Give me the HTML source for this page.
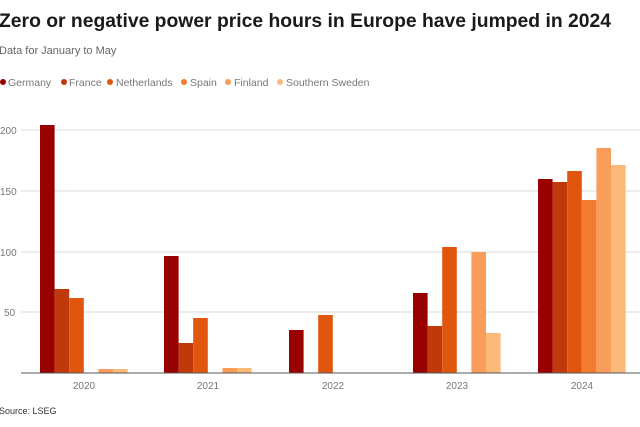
<!DOCTYPE html>
<html><head><style>
body{margin:0;width:640px;height:422px;background:#fff;overflow:hidden;font-family:"Liberation Sans",sans-serif}
</style></head><body>
<svg width="640" height="422" xmlns="http://www.w3.org/2000/svg" font-family="Liberation Sans, sans-serif">
<text x="-1" y="27" font-size="19.5" font-weight="bold" fill="#1a1a1a" textLength="612" lengthAdjust="spacingAndGlyphs">Zero or negative power price hours in Europe have jumped in 2024</text>
<text x="-1" y="54" font-size="11" fill="#666">Data for January to May</text>
<g font-size="10.5" fill="#777">
<circle cx="3" cy="82" r="3" fill="#990000"/><text x="8" y="86">Germany</text>
<circle cx="64" cy="82" r="3" fill="#c0390b"/><text x="69" y="86">France</text>
<circle cx="110" cy="82" r="3" fill="#e0560f"/><text x="116" y="86">Netherlands</text>
<circle cx="184" cy="82" r="3" fill="#f47a30"/><text x="190" y="86">Spain</text>
<circle cx="228" cy="82" r="3" fill="#f99e5a"/><text x="234" y="86">Finland</text>
<circle cx="280" cy="82" r="3" fill="#fbb97a"/><text x="286" y="86">Southern Sweden</text>
</g>
<g stroke="#d8d8d8" stroke-width="1">
<line x1="21" y1="130" x2="640" y2="130"/>
<line x1="21" y1="191" x2="640" y2="191"/>
<line x1="21" y1="252" x2="640" y2="252"/>
<line x1="21" y1="312" x2="640" y2="312"/>
</g>
<g font-size="10" fill="#777">
<text x="0" y="134">200</text><text x="0" y="195">150</text><text x="0" y="256">100</text><text x="4" y="316">50</text>
</g>
<g id="bars"></g>
<line x1="21" y1="373" x2="640" y2="373" stroke="#555" stroke-width="1"/>
<g font-size="10" fill="#777" text-anchor="middle">
<text x="84" y="389">2020</text><text x="208" y="389">2021</text><text x="333" y="389">2022</text><text x="457" y="389">2023</text><text x="582" y="389">2024</text>
</g>
<text x="-1" y="414" font-size="9" fill="#333">Source: LSEG</text>
<g>
<!-- bars generated inline -->
<rect x="40" y="125" width="14.6" height="248" fill="#990000"/>
<rect x="54.6" y="289" width="14.6" height="84" fill="#c0390b"/>
<rect x="69.2" y="298" width="14.6" height="75" fill="#e0560f"/>
<rect x="98.4" y="369" width="14.6" height="4" fill="#f99e5a"/>
<rect x="113" y="369" width="14.6" height="4" fill="#fbb97a"/>

<rect x="164" y="256" width="14.6" height="117" fill="#990000"/>
<rect x="178.6" y="343" width="14.6" height="30" fill="#c0390b"/>
<rect x="193.2" y="318" width="14.6" height="55" fill="#e0560f"/>
<rect x="222.4" y="368" width="14.6" height="5" fill="#f99e5a"/>
<rect x="237" y="368" width="14.6" height="5" fill="#fbb97a"/>

<rect x="289" y="330" width="14.6" height="43" fill="#990000"/>
<rect x="318.2" y="315" width="14.6" height="58" fill="#e0560f"/>

<rect x="413" y="293" width="14.6" height="80" fill="#990000"/>
<rect x="427.6" y="326" width="14.6" height="47" fill="#c0390b"/>
<rect x="442.2" y="247" width="14.6" height="126" fill="#e0560f"/>
<rect x="471.4" y="252" width="14.6" height="121" fill="#f99e5a"/>
<rect x="486" y="333" width="14.6" height="40" fill="#fbb97a"/>

<rect x="538" y="179" width="14.6" height="194" fill="#990000"/>
<rect x="552.6" y="182" width="14.6" height="191" fill="#c0390b"/>
<rect x="567.2" y="171" width="14.6" height="202" fill="#e0560f"/>
<rect x="581.8" y="200" width="14.6" height="173" fill="#f47a30"/>
<rect x="596.4" y="148" width="14.6" height="225" fill="#f99e5a"/>
<rect x="611" y="165" width="14.6" height="208" fill="#fbb97a"/>
</g>
<line x1="21" y1="373" x2="640" y2="373" stroke="#555" stroke-width="1"/>
</svg>
</body></html>
